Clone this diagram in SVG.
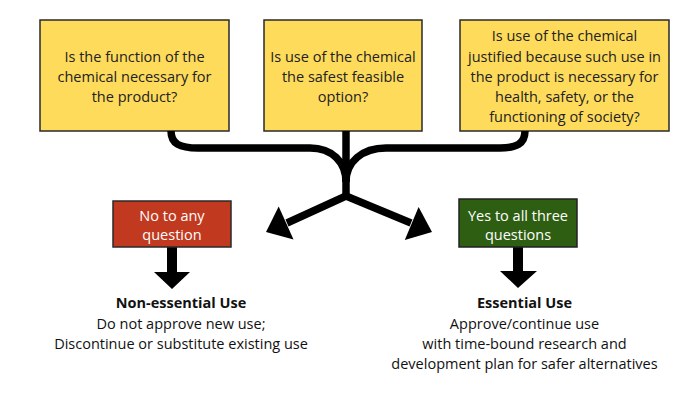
<svg xmlns="http://www.w3.org/2000/svg" width="700" height="394" viewBox="0 0 700 394">
<style>
  .q { fill: #FEDB5B; stroke: #2a2a2a; stroke-width: 1.5; }
  .qt { font-family: "Open Sans", "Liberation Sans", sans-serif; font-size: 14.5px; fill: #222; text-anchor: middle; }
  .bt { font-family: "Open Sans", "Liberation Sans", sans-serif; font-size: 14.5px; fill: #fff; text-anchor: middle; }
  .ot { font-family: "Open Sans", "Liberation Sans", sans-serif; font-size: 14.5px; fill: #111; text-anchor: middle; }
  .ob { font-weight: bold; }
  .wire { fill: none; stroke: #000; stroke-width: 7.5; }
  .head { fill: #000; }
</style>
<rect width="700" height="394" fill="#fff"/>

<g id="q1">
  <rect class="q" x="40" y="20" width="189" height="111"/>
  <text class="qt" x="134.5" y="61.5">Is the function of the</text>
  <text class="qt" x="134.5" y="81.5">chemical necessary for</text>
  <text class="qt" x="134.5" y="101.5">the product?</text>
</g>
<g id="q2">
  <rect class="q" x="264" y="20" width="158" height="111"/>
  <text class="qt" x="343" y="61.5">Is use of the chemical</text>
  <text class="qt" x="343" y="81.5">the safest feasible</text>
  <text class="qt" x="343" y="101.5">option?</text>
</g>
<g id="q3">
  <rect class="q" x="460" y="20" width="209" height="111"/>
  <text class="qt" x="564.5" y="41">Is use of the chemical</text>
  <text class="qt" x="564.5" y="61.5">justified because such use in</text>
  <text class="qt" x="564.5" y="81.5">the product is necessary for</text>
  <text class="qt" x="564.5" y="101.5">health, safety, or the</text>
  <text class="qt" x="564.5" y="121.5">functioning of society?</text>
</g>

<g id="connectors">
  <path class="wire" d="M171,131 C171,144 180,148 198,148 L310,148 C332,148 346,162 346,182"/>
  <path class="wire" d="M525,131 C525,144 516,148 500,148 L386,148 C362,148 346,162 346,182"/>
  <path class="wire" d="M346,131 L346,197"/>
  <path class="wire" d="M346,196 L287,223"/>
  <polygon class="head" points="266,232 293.5,239.4 278.7,206.6"/>
  <path class="wire" d="M346,196 L411,223"/>
  <polygon class="head" points="432,232 404.8,240.1 418.6,206.9"/>
  <polygon class="head" points="167,247 177,247 177,272 190,272 172,289 154,272 167,272"/>
  <polygon class="head" points="513,247 523,247 523,271 537,271 518,288 500,271 513,271"/>
</g>

<g id="no">
  <rect x="113" y="201" width="118" height="46" fill="#C1391F" stroke="#2a2a2a" stroke-width="1.5"/>
  <text class="bt" x="172" y="220.5">No to any</text>
  <text class="bt" x="172" y="240">question</text>
</g>
<g id="yes">
  <rect x="459" y="199" width="118" height="48" fill="#2E5E12" stroke="#222" stroke-width="1.5"/>
  <text class="bt" x="518" y="220.5">Yes to all three</text>
  <text class="bt" x="518" y="240">questions</text>
</g>

<g id="nonessential">
  <text class="ot ob" x="181" y="308">Non-essential Use</text>
  <text class="ot" x="181" y="329">Do not approve new use;</text>
  <text class="ot" x="181" y="349">Discontinue or substitute existing use</text>
</g>
<g id="essential">
  <text class="ot ob" x="524.5" y="308">Essential Use</text>
  <text class="ot" x="524.5" y="329">Approve/continue use</text>
  <text class="ot" x="524.5" y="349">with time-bound research and</text>
  <text class="ot" x="524.5" y="368.5">development plan for safer alternatives</text>
</g>
</svg>
